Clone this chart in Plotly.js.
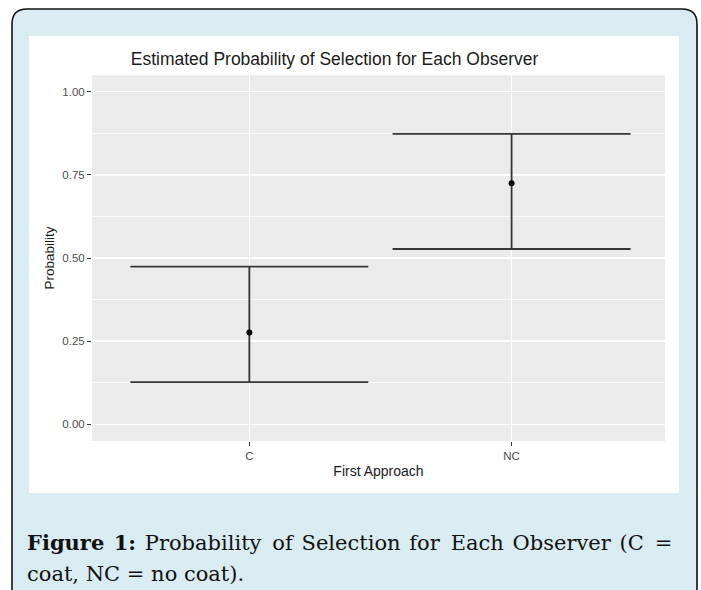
<!DOCTYPE html>
<html>
<head>
<meta charset="utf-8">
<script src="https://cdn.plot.ly/plotly-3.0.1.min.js"></script>
<style>html,body{margin:0;padding:0;background:#fff;}#chart{width:701px;height:590px;}</style>
</head>
<body>
<div id="chart"></div>
<script>
// ---- data ----
const approaches = ['C', 'NC'];
const estimate = [0.276, 0.725];
const lowerCI = [0.127, 0.527];
const upperCI = [0.474, 0.873];
const yTickVals = [0, 0.25, 0.5, 0.75, 1];
const yTickText = ['0.00', '0.25', '0.50', '0.75', '1.00'];

const chartTitle = 'Estimated Probability of Selection for Each Observer';
const xTitle = 'First Approach';
const yTitle = 'Probability';
const captionWords1 = ['<b>Figure', '1:</b>', 'Probability', 'of', 'Selection', 'for', 'Each', 'Observer', '(C', '='];
const captionLine2 = 'coat, NC = no coat).';

// ---- layout geometry (pixels) ----
const W = 701, H = 590;
const PL = 92, PR = 665, PT = 75, PB = 441;
const px2x = x => (x - PL) / (PR - PL);
const px2y = y => (PB - y) / (PB - PT);

const sans = 'Liberation Sans, Arial, Helvetica, sans-serif';
const blue = 'rgb(217,236,241)';
// justified first caption line: normal space plus a little extra space between words
const captionLine1 = captionWords1.reduce((acc, w, i) =>
  i === 0 ? w : acc + (i % 3 === 0 ? ' \u2009' : ' \u200A') + w, '');

const border = 'M' + px2x(12) + ',' + px2y(640) +
  ' L' + px2x(12) + ',' + px2y(24) +
  ' Q' + px2x(12) + ',' + px2y(9) + ' ' + px2x(27) + ',' + px2y(9) +
  ' L' + px2x(682) + ',' + px2y(9) +
  ' Q' + px2x(697) + ',' + px2y(9) + ' ' + px2x(697) + ',' + px2y(24) +
  ' L' + px2x(697) + ',' + px2y(640) + ' Z';

const trace = {
  type: 'scatter',
  mode: 'markers',
  x: approaches,
  y: estimate,
  marker: {color: '#000000', size: 6},
  error_y: {
    type: 'data',
    symmetric: false,
    array: upperCI.map((u, i) => u - estimate[i]),
    arrayminus: lowerCI.map((l, i) => estimate[i] - l),
    width: 119,
    thickness: 1.8,
    color: '#363636'
  },
  hoverinfo: 'x+y',
  showlegend: false
};

const layout = {
  width: W, height: H,
  margin: {l: PL, r: W - PR, t: PT, b: H - PB, pad: 0},
  paper_bgcolor: '#ffffff',
  plot_bgcolor: 'rgba(0,0,0,0)',
  font: {family: sans, color: '#1a1a1a'},
  showlegend: false,
  title: {
    text: chartTitle,
    font: {family: sans, size: 17.5, color: '#1a1a1a'},
    xref: 'container', yref: 'container',
    x: 334.5 / W, y: 1 - 59 / H,
    xanchor: 'center', yanchor: 'middle'
  },
  xaxis: {
    type: 'category',
    range: [-0.6, 1.585],
    showgrid: true, gridcolor: '#ffffff', gridwidth: 1.5,
    zeroline: false, showline: false,
    ticks: 'outside', ticklen: 4, tickwidth: 1, tickcolor: '#333333',
    tickfont: {family: sans, size: 11.5, color: '#4d4d4d'},
    title: {text: xTitle, font: {family: sans, size: 14, color: '#1a1a1a'}, standoff: 5},
    automargin: false,
    fixedrange: true
  },
  yaxis: {
    range: [-0.05, 1.05],
    tickvals: yTickVals, ticktext: yTickText,
    showgrid: true, gridcolor: '#ffffff', gridwidth: 1.5,
    minor: {tick0: 0.125, dtick: 0.25, showgrid: true, gridcolor: '#ffffff', gridwidth: 0.8, ticks: ''},
    zeroline: false, showline: false,
    ticks: 'outside', ticklen: 4, tickwidth: 1, tickcolor: '#333333',
    tickfont: {family: sans, size: 11.5, color: '#4d4d4d'},
    title: {text: yTitle, font: {family: sans, size: 13.5, color: '#1a1a1a'}, standoff: 4},
    automargin: false,
    fixedrange: true
  },
  shapes: [
    {type: 'path', xref: 'paper', yref: 'paper', layer: 'below', path: border,
     fillcolor: blue, line: {color: '#111111', width: 1.6}},
    {type: 'rect', xref: 'paper', yref: 'paper', layer: 'below',
     x0: px2x(29), x1: px2x(679), y0: px2y(493), y1: px2y(36),
     fillcolor: '#ffffff', line: {width: 0}},
    {type: 'rect', xref: 'paper', yref: 'paper', layer: 'below',
     x0: 0, x1: 1, y0: 0, y1: 1,
     fillcolor: '#ebebeb', line: {width: 0}}
  ],
  annotations: [
    {xref: 'paper', yref: 'paper', x: px2x(25), y: px2y(542), xanchor: 'left', yanchor: 'middle',
     text: captionLine1, showarrow: false, align: 'left',
     font: {family: 'DejaVu Serif, serif', size: 21, color: '#111111'}},
    {xref: 'paper', yref: 'paper', x: px2x(25), y: px2y(574), xanchor: 'left', yanchor: 'middle',
     text: captionLine2, showarrow: false, align: 'left',
     font: {family: 'DejaVu Serif, serif', size: 21, color: '#111111'}}
  ]
};

Plotly.newPlot('chart', [trace], layout, {staticPlot: true, displayModeBar: false});
</script>
</body>
</html>
